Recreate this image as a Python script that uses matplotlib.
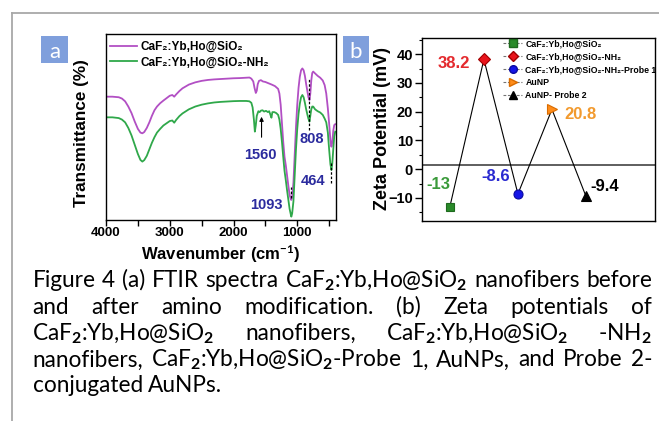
"""plot.py - FTIR spectra (a) and zeta potentials (b) with justified caption."""

import matplotlib

matplotlib.use("Agg")  # headless
import matplotlib.pyplot as plt
from matplotlib.lines import Line2D
from matplotlib.patches import Rectangle
from matplotlib.ticker import MultipleLocator

W, H = 659, 421  # output size in pixels (dpi 100)

plt.rcParams["font.family"] = ["Liberation Sans", "DejaVu Sans"]
plt.rcParams["font.weight"] = "bold"
plt.rcParams["axes.labelweight"] = "bold"
plt.rcParams["mathtext.fontset"] = "custom"
plt.rcParams["mathtext.rm"] = "Lato"
plt.rcParams["mathtext.it"] = "Lato:italic"
plt.rcParams["mathtext.bf"] = "Lato:bold"

# ---- panel (a): FTIR, transmittance in arbitrary units (0-100 of the frame)
wn_bare = [4000, 3900, 3800, 3750, 3700, 3650, 3600, 3550, 3500, 3460, 3430,
           3400, 3360, 3320, 3280, 3240, 3200, 3150, 3100, 3050, 3000, 2960,
           2930, 2900, 2850, 2800, 2700, 2600, 2500, 2400, 2300, 2200, 2100,
           2000, 1900, 1800, 1750, 1720, 1690, 1670, 1650, 1635, 1620, 1600,
           1570, 1540, 1500, 1450, 1400, 1350, 1300, 1280, 1260, 1240, 1220,
           1200, 1180, 1160, 1140, 1120, 1100, 1093, 1080, 1060, 1040, 1020,
           1000, 980, 960, 940, 920, 900, 880, 860, 840, 825, 808, 795, 780,
           765, 750, 720, 680, 640, 600, 570, 545, 520, 500, 480, 464, 450,
           435, 420, 405]
t_bare = [66.3, 66.3, 66.0, 65.3, 63.8, 61.0, 57.5, 53.0, 49.0, 47.0, 46.6,
          47.3, 49.5, 52.5, 56.0, 59.0, 61.0, 62.8, 64.2, 65.5, 66.8, 67.2,
          66.3, 67.5, 69.3, 70.8, 72.8, 74.0, 74.8, 75.3, 75.6, 75.8, 76.0,
          76.2, 76.3, 76.5, 76.6, 76.0, 74.5, 71.0, 68.3, 69.5, 73.0, 74.8,
          75.2, 74.5, 74.2, 73.5, 72.8, 72.0, 70.5, 68.0, 62.0, 52.0, 42.0,
          34.0, 29.5, 24.0, 18.5, 13.5, 11.0, 10.8, 12.5, 20.0, 35.0, 50.0,
          62.0, 71.0, 77.0, 80.5, 81.5, 80.5, 77.5, 73.0, 69.0, 66.0, 64.5,
          68.0, 75.0, 79.0, 79.8, 78.8, 77.5, 76.5, 75.0, 72.5, 68.0, 60.0,
          52.0, 43.0, 39.4, 42.0, 48.0, 51.0, 51.5]

wn_amino = [4000, 3900, 3800, 3750, 3700, 3650, 3600, 3550, 3500, 3460, 3430,
            3400, 3360, 3320, 3280, 3240, 3200, 3150, 3100, 3050, 3000, 2960,
            2930, 2900, 2850, 2800, 2700, 2600, 2500, 2400, 2300, 2200, 2100,
            2000, 1900, 1800, 1750, 1720, 1700, 1680, 1665, 1650, 1635, 1610,
            1590, 1570, 1545, 1520, 1490, 1460, 1440, 1420, 1405, 1390, 1360,
            1330, 1300, 1280, 1260, 1240, 1220, 1200, 1180, 1160, 1140, 1120,
            1100, 1093, 1080, 1060, 1040, 1020, 1000, 980, 960, 940, 920, 900,
            880, 860, 840, 825, 808, 795, 780, 765, 750, 720, 680, 640, 600,
            570, 545, 520, 500, 480, 464, 450, 435, 420, 405]
t_amino = [55.2, 55.2, 54.8, 54.0, 52.5, 49.5, 45.5, 40.5, 35.5, 32.3, 31.4,
           32.2, 34.5, 38.0, 41.5, 44.5, 47.0, 49.0, 50.8, 52.0, 53.2, 53.5,
           52.3, 53.8, 55.8, 57.3, 59.5, 61.0, 62.0, 62.7, 63.2, 63.5, 63.7,
           63.9, 64.0, 64.0, 63.8, 63.0, 60.5, 54.0, 47.5, 51.0, 56.0, 58.5,
           58.0, 58.8, 59.0, 58.3, 58.7, 58.0, 58.5, 56.5, 55.0, 58.0, 58.0,
           57.5, 56.5, 54.0, 49.0, 42.0, 34.0, 26.5, 21.5, 16.0, 11.0, 6.0,
           2.8, 1.8, 3.5, 10.0, 24.0, 38.0, 49.0, 57.0, 62.5, 66.0, 67.2, 66.0,
           63.0, 59.5, 56.5, 54.5, 52.9, 56.0, 59.5, 61.0, 61.0, 59.5, 58.5,
           57.8, 56.5, 54.5, 52.5, 47.0, 38.0, 30.0, 26.9, 30.5, 38.0, 45.0,
           47.5]

ftir_labels = ["CaF\u2082:Yb,Ho@SiO\u2082", "CaF\u2082:Yb,Ho@SiO\u2082-NH\u2082"]
peak_wn = [1560, 808, 1093, 464]
peak_text_xy = [(1573, 34.9), (769, 43.5), (1490, 8.1), (753, 21.1)]
peak_marks = [(1093, 12.0, 18.0), (808, 48.4, 76.2), (464, 19.7, 30.5)]
arrow_1560 = (44.5, 55.5)

# ---- panel (b): zeta potentials
zeta_names = ["CaF\u2082:Yb,Ho@SiO\u2082", "CaF\u2082:Yb,Ho@SiO\u2082-NH\u2082",
              "CaF\u2082:Yb,Ho@SiO\u2082-NH\u2082-Probe 1", "AuNP",
              "AuNP- Probe 2"]
zeta_pos = [1, 2, 3, 4, 5]
zeta_mv = [-13, 38.2, -8.6, 20.8, -9.4]
zeta_text_xy = [(0.65, -5.4), (1.12, 36.9), (2.35, -2.6), (4.85, 18.9),
                (5.56, -6.0)]
BASELINE_MV = 1.3  # the drawn reference line sits just above zero

markers = ["s", "D", "o", ">", "^"]
fills = ["#2a8a2a", "#e8141c", "#1515e6", "#ff8c1a", "#000000"]
edges = ["#1e6a1e", "#a00000", "#0a0aa0", "#d96c00", "#000000"]
text_colors = ["#3a9a3a", "#e42a2e", "#2a2ad0", "#f29a2e", "#000000"]

caption_lines = [
    ["Figure", "4", "(a)", "FTIR", "spectra", "CaF$_2$:Yb,Ho@SiO$_2$",
     "nanofibers", "before"],
    ["and", "after", "amino", "modification.", "(b)", "Zeta", "potentials",
     "of"],
    ["CaF$_2$:Yb,Ho@SiO$_2$", "nanofibers,", "CaF$_2$:Yb,Ho@SiO$_2$",
     "-NH$_2$"],
    ["nanofibers,", "CaF$_2$:Yb,Ho@SiO$_2$-Probe", "1,", "AuNPs,", "and",
     "Probe", "2-"],
    ["conjugated", "AuNPs."],
]
caption_baselines = [287, 313.5, 340, 366.5, 392]


def fig_rect(x, y, w, h):
    """Pixel box (left, top, width, height) -> figure fraction rect."""
    return [x / W, 1 - (y + h) / H, w / W, h / H]


def bold_ticks(ax):
    for lab in ax.get_xticklabels() + ax.get_yticklabels():
        lab.set_fontweight("bold")


def draw_frame(fig):
    grey = "#a8a8a8"
    fig.add_artist(Line2D([12 / W, 1], [1 - 13 / H] * 2, color=grey, lw=1.3))
    fig.add_artist(Line2D([12 / W] * 2, [1 - 13 / H, 0], color=grey, lw=1.3))
    for letter, (x, y, w, h) in [("a", (41, 36, 27, 27)), ("b", (343, 36, 26, 27))]:
        r = fig_rect(x, y, w, h)
        fig.add_artist(Rectangle((r[0], r[1]), r[2], r[3], color="#7f9fdc",
                                 transform=fig.transFigure, lw=0))
        fig.text((x + w / 2) / W, 1 - (y + h / 2) / H, letter, color="white",
                 family="Lato", weight="normal", fontsize=16,
                 ha="center", va="center_baseline")


def draw_ftir(ax):
    ax.plot(wn_bare, t_bare, color="#b24fc4", lw=1.3, label=ftir_labels[0])
    ax.plot(wn_amino, t_amino, color="#2fa84a", lw=1.3, label=ftir_labels[1])
    ax.set_xlim(4000, 400)
    ax.set_ylim(0, 100)
    ax.set_yticks([])
    ax.xaxis.set_major_locator(MultipleLocator(1000))
    ax.xaxis.set_minor_locator(MultipleLocator(500))
    ax.tick_params(axis="x", which="both", direction="out", length=4, width=1,
                   pad=1, labelsize=9.5)
    bold_ticks(ax)
    for s in ax.spines.values():
        s.set_linewidth(1.0)

    for wn, (tx, ty) in zip(peak_wn, peak_text_xy):
        ax.text(tx, ty, str(wn), color="#2b2b9e", fontsize=10.5,
                ha="center", va="center")
    for wn, y0, y1 in peak_marks:
        ax.plot([wn, wn], [y0, y1], color="k", lw=0.9, ls=(0, (2, 1.5)))
    ax.annotate("", xy=(1560, arrow_1560[1]), xytext=(1560, arrow_1560[0]),
                arrowprops=dict(arrowstyle="-|>", color="k", lw=0.8,
                                mutation_scale=6, shrinkA=0, shrinkB=0))

    ax.legend(loc="upper left", bbox_to_anchor=(0.017, 0.962), frameon=False,
              fontsize=8.5, handlelength=2.3, handletextpad=0.25,
              labelspacing=0.3, borderpad=0, borderaxespad=0)
    ax.set_ylabel("Transmittance (%)", fontsize=12.3)
    ax.yaxis.set_label_coords(-0.074, 0.47)
    ax.set_xlabel("Wavenumber (cm$^{-1}$)", fontsize=12)
    ax.xaxis.label.set_va("baseline")
    ax.xaxis.set_label_coords(0.501, -0.215)


def draw_zeta(ax):
    ax.plot(zeta_pos, zeta_mv, color="k", lw=0.8, zorder=2)
    handles = []
    for x, v, m, fc, ec, name in zip(zeta_pos, zeta_mv, markers, fills, edges,
                                     zeta_names):
        ms = 5.5 if m == "s" else 6.5
        ax.plot(x, v, marker=m, ms=ms, mfc=fc, mec=ec, mew=0.8, ls="none",
                zorder=3)
        handles.append(Line2D([], [], color="0.45", lw=0.8, ls=(0, (2.5, 1.5)),
                              marker=m, ms=5.5, mfc=fc, mec=ec, label=name))
    ax.axhline(BASELINE_MV, color="#333333", lw=1.1, zorder=1)
    for v, (tx, ty), c in zip(zeta_mv, zeta_text_xy, text_colors):
        ax.text(tx, ty, f"{v:g}", color=c, fontsize=12, ha="center",
                va="center")

    ax.set_xlim(0.18, 7.03)
    ax.set_ylim(-18, 45.6)
    ax.set_xticks([])
    ax.yaxis.set_major_locator(MultipleLocator(10))
    ax.yaxis.set_minor_locator(MultipleLocator(5))
    ax.tick_params(axis="y", which="major", direction="out", length=5,
                   width=1, pad=1.5, labelsize=10.5)
    ax.tick_params(axis="y", which="minor", direction="out", length=2.5,
                   width=0.8)
    bold_ticks(ax)
    for s in ax.spines.values():
        s.set_linewidth(1.0)
    ax.legend(handles=handles, loc="upper left", bbox_to_anchor=(0.348, 0.992),
              frameon=False, fontsize=6.3, handlelength=2.2,
              handletextpad=0.35, labelspacing=0.45, borderpad=0,
              borderaxespad=0)
    ax.set_ylabel("Zeta Potential (mV)", fontsize=13)
    ax.yaxis.set_label_coords(-0.135, 0.507)


def draw_caption(fig, x0=32.5, x1=652.0, size=14.5):
    renderer = fig.canvas.get_renderer()
    # size the font so the tightest (first) line just fills the column
    probe = fig.text(0, 0, " ".join(caption_lines[0]), family="Lato",
                     weight="normal", fontsize=size)
    size *= 0.99 * (x1 - x0) / probe.get_window_extent(renderer).width
    probe.remove()

    for i, (words, base) in enumerate(zip(caption_lines, caption_baselines)):
        texts = [fig.text(0, 1 - base / H, w, family="Lato", weight="normal",
                          fontsize=size, va="baseline", ha="left")
                 for w in words]
        widths = [t.get_window_extent(renderer).width for t in texts]
        last = i == len(caption_lines) - 1
        gap = size * 100 / 72 * 0.25 if last else \
            (x1 - x0 - sum(widths)) / (len(words) - 1)
        x = x0
        for t, w in zip(texts, widths):
            t.set_x(x / W)
            x += w + gap


def main() -> None:
    fig = plt.figure(figsize=(W / 100, H / 100), dpi=100)
    ax_a = fig.add_axes(fig_rect(106, 34, 229.5, 186))
    ax_b = fig.add_axes(fig_rect(422, 38, 233, 183))
    draw_ftir(ax_a)
    draw_zeta(ax_b)
    draw_frame(fig)
    draw_caption(fig)
    fig.savefig("out.png", dpi=100)
    plt.close(fig)


if __name__ == "__main__":
    main()
